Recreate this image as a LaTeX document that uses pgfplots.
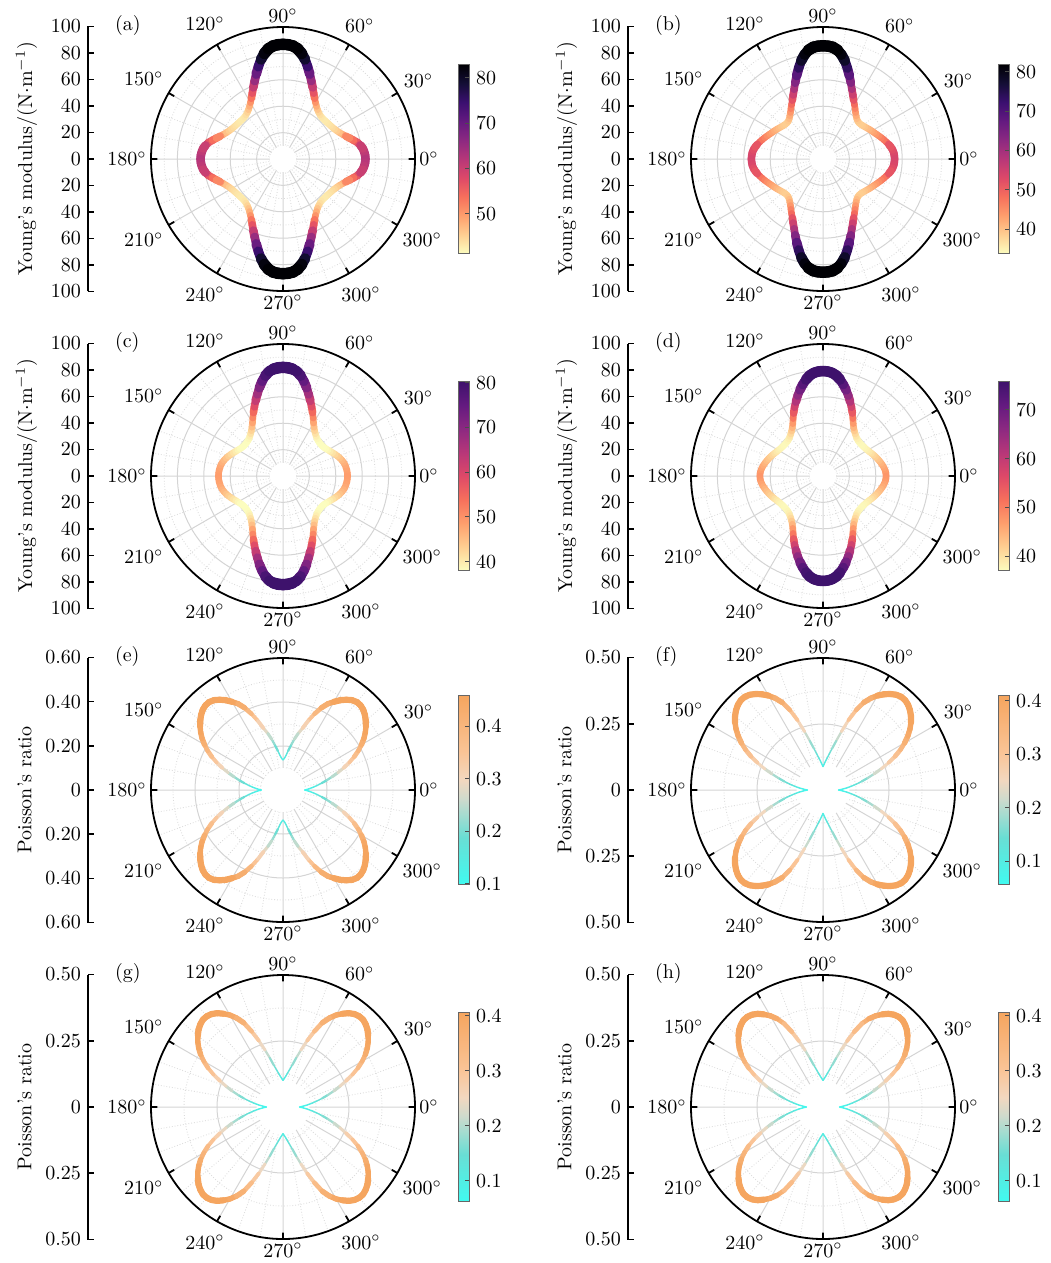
\documentclass[border=0pt]{standalone}
\usepackage{pgfplots}
\pgfplotsset{compat=1.18}
\usepackage{pgfplotstable}
\usepgfplotslibrary{polar}

% colormaps: reversed magma, magma cut at dark purple, cyan-orange
\pgfplotsset{
  colormap={magmar}{rgb255=(252,253,191) rgb255=(254,207,146) rgb255=(254,159,109) rgb255=(247,112,92) rgb255=(222,73,104) rgb255=(183,55,121) rgb255=(140,41,129) rgb255=(100,26,128) rgb255=(59,15,112) rgb255=(20,14,54) rgb255=(0,0,4)},
  colormap={magmac}{rgb255=(252,253,191) rgb255=(254,207,146) rgb255=(254,159,109) rgb255=(247,112,92) rgb255=(222,73,104) rgb255=(183,55,121) rgb255=(140,41,129) rgb255=(100,26,128) rgb255=(62,18,108)},
  colormap={cyor}{rgb255(0cm)=(64,250,240) rgb255(2.5cm)=(105,222,212) rgb255(4.5cm)=(205,218,205) rgb255(5.5cm)=(242,216,192) rgb255(7cm)=(250,196,150) rgb255(10cm)=(245,165,95)},
}

\pgfplotsset{
  pol/.style={
    scale only axis, width=132pt, height=132pt, anchor=center,
    ymin=0,
    xtick={0,30,...,330},
    xticklabels={$0^\circ$,$30^\circ$,$60^\circ$,$90^\circ$,$120^\circ$,$150^\circ$,$180^\circ$,$210^\circ$,$240^\circ$,$270^\circ$,$300^\circ$,$300^\circ$},
    xticklabel style={inner sep=5.2pt},
    minor xtick={10,20,40,50,70,80,100,110,130,140,160,170,190,200,220,230,250,260,280,290,310,320,340,350},
    yticklabels={},
    grid=both,
    major grid style={black!17, line width=0.5pt},
    minor grid style={black!14, densely dotted, line width=0.45pt},
    major tick length=3.2pt, minor tick length=0pt,
    tick align=outside,
    xtick style={black, line width=0.9pt},
    ytick style={draw=none},
    axis line style={black, line width=0.9pt},
    y axis line style={draw=none},
    colorbar,
    colorbar style={at={(parent axis.center)}, anchor=west, xshift=79pt,
      width=5.5pt, height=94.5pt, tick align=inside, ytick pos=right,
      axis line style={black!60, line width=0.5pt},
      ytick style={black!70, line width=0.5pt}, major tick length=2pt},
  },
  radax/.style={scale only axis, width=2pt, height=132.5pt, anchor=west,
    xmin=0, xmax=1, axis y line*=left, axis x line=none,
    tick align=inside, major tick length=3pt,
    y axis line style={line width=0.8pt},
    ytick style={line width=0.8pt, black}},
  curv/.style={mesh, line cap=round, line join=round, point meta=\thisrow{r}, line width=#1},
}

% one quadrant of data (0..90 deg), mirrored to the other three
\newcommand{\base}[2]{%
  \addplot[curv=#2] table[x=a,y=r]{#1};
  \addplot[curv=#2] table[x expr=180-\thisrow{a},y=r]{#1};
  \addplot[curv=#2] table[x expr=180+\thisrow{a},y=r]{#1};
  \addplot[curv=#2] table[x expr=360-\thisrow{a},y=r]{#1};
}
\newcommand{\half}[4]{%
  \addplot[curv=#2, restrict expr to domain={#4*\thisrow{r}}{#3:1000}] table[x=a,y=r]{#1};
  \addplot[curv=#2, restrict expr to domain={#4*\thisrow{r}}{#3:1000}] table[x expr=180-\thisrow{a},y=r]{#1};
  \addplot[curv=#2, restrict expr to domain={#4*\thisrow{r}}{#3:1000}] table[x expr=180+\thisrow{a},y=r]{#1};
  \addplot[curv=#2, restrict expr to domain={#4*\thisrow{r}}{#3:1000}] table[x expr=360-\thisrow{a},y=r]{#1};
}
\newcommand{\layer}[3]{%
  \half{#1}{#2}{#3}{(\thisrow{a}<=45)}%
  \half{#1}{#2}{#3}{(\thisrow{a}>=45)}%
}
% line width grows with the value
\newcommand{\Ecurve}[1]{%
  \base{#1}{3.3pt}
  \layer{#1}{3.8pt}{50}
  \layer{#1}{4.3pt}{58}
  \layer{#1}{4.8pt}{66}
  \layer{#1}{5.3pt}{74}
  \layer{#1}{5.7pt}{81}
}
\newcommand{\Pcurve}[7]{% table, six thresholds
  \base{#1}{0.7pt}
  \layer{#1}{1.1pt}{#2}
  \layer{#1}{1.5pt}{#3}
  \layer{#1}{1.9pt}{#4}
  \layer{#1}{2.3pt}{#5}
  \layer{#1}{2.7pt}{#6}
  \layer{#1}{3.1pt}{#7}
}

\pgfplotstableread{
a r
0 62.5
2.5 62.3
5 61.8
7.5 61.0
10 59.6
12.5 57.8
15 55.2
17.5 52.8
20 50.6
22.5 48.8
25 47.3
27.5 46.1
30 45.2
32.5 44.5
35 44.0
37.5 43.6
40 43.3
42.5 43.1
45 43.0
47.5 43.1
50 43.6
52.5 44.4
55 45.6
57.5 47.2
60 49.3
62.5 51.9
65 55.0
67.5 58.7
70 62.8
72.5 67.4
75 72.3
77.5 77.2
80 81.2
82.5 84.3
85 86.0
87.5 86.7
90 86.9
}\Ea
\pgfplotstableread{
a r
0 54.3
2.5 54.1
5 53.8
7.5 53.2
10 52.2
12.5 51.0
15 49.7
17.5 48.4
20 47.1
22.5 45.8
25 44.6
27.5 43.5
30 42.6
32.5 41.7
35 40.8
37.5 40.0
40 39.3
42.5 38.8
45 38.6
47.5 38.9
50 39.8
52.5 41.2
55 43.0
57.5 45.2
60 47.6
62.5 50.3
65 53.5
67.5 57.2
70 61.5
72.5 66.3
75 71.3
77.5 76.3
80 80.3
82.5 83.3
85 85.0
87.5 85.6
90 85.8
}\Eb
\pgfplotstableread{
a r
0 48.9
2.5 48.8
5 48.6
7.5 48.2
10 47.8
12.5 47.1
15 46.2
17.5 45.2
20 44.0
22.5 42.8
25 41.6
27.5 40.4
30 39.4
32.5 38.5
35 37.8
37.5 37.4
40 37.3
42.5 37.4
45 37.7
47.5 38.2
50 39.1
52.5 40.3
55 41.8
57.5 43.8
60 46.3
62.5 49.5
65 53.0
67.5 56.7
70 60.6
72.5 64.8
75 69.2
77.5 73.5
80 77.2
82.5 80.0
85 81.4
87.5 82.1
90 82.3
}\Ec
\pgfplotstableread{
a r
0 47.8
2.5 47.7
5 47.3
7.5 46.7
10 45.9
12.5 45.1
15 44.2
17.5 43.3
20 42.4
22.5 41.5
25 40.6
27.5 39.7
30 39.0
32.5 38.4
35 38.0
37.5 37.7
40 37.5
42.5 37.5
45 37.7
47.5 38.2
50 39.0
52.5 40.1
55 41.5
57.5 43.3
60 45.8
62.5 49.0
65 52.6
67.5 56.4
70 60.0
72.5 63.8
75 67.5
77.5 71.0
80 74.2
82.5 76.9
85 78.5
87.5 79.3
90 79.5
}\Ed
\pgfplotstableread{
a r
0 0.099
2.5 0.117
5 0.136
7.5 0.156
10 0.178
12.5 0.203
15 0.230
17.5 0.261
20 0.293
22.5 0.326
25 0.357
27.5 0.386
30 0.412
32.5 0.436
35 0.457
37.5 0.475
40 0.491
42.5 0.505
45 0.516
47.5 0.522
50 0.522
52.5 0.515
55 0.501
57.5 0.484
60 0.463
62.5 0.442
65 0.412
67.5 0.375
70 0.335
72.5 0.294
75 0.266
77.5 0.236
80 0.205
82.5 0.180
85 0.158
87.5 0.144
90 0.137
}\Pe
\pgfplotstableread{
a r
0 0.059
2.5 0.074
5 0.090
7.5 0.108
10 0.128
12.5 0.150
15 0.175
17.5 0.203
20 0.235
22.5 0.268
25 0.301
27.5 0.331
30 0.357
32.5 0.381
35 0.402
37.5 0.420
40 0.435
42.5 0.447
45 0.456
47.5 0.461
50 0.461
52.5 0.455
55 0.444
57.5 0.430
60 0.413
62.5 0.392
65 0.366
67.5 0.328
70 0.281
72.5 0.232
75 0.192
77.5 0.162
80 0.140
82.5 0.123
85 0.110
87.5 0.098
90 0.089
}\Pf
\pgfplotstableread{
a r
0 0.063
2.5 0.077
5 0.093
7.5 0.111
10 0.130
12.5 0.152
15 0.176
17.5 0.202
20 0.229
22.5 0.258
25 0.290
27.5 0.320
30 0.346
32.5 0.370
35 0.390
37.5 0.407
40 0.421
42.5 0.434
45 0.443
47.5 0.449
50 0.449
52.5 0.444
55 0.434
57.5 0.419
60 0.402
62.5 0.380
65 0.352
67.5 0.310
70 0.267
72.5 0.226
75 0.192
77.5 0.163
80 0.144
82.5 0.129
85 0.117
87.5 0.108
90 0.101
}\Pg
\pgfplotstableread{
a r
0 0.063
2.5 0.077
5 0.093
7.5 0.111
10 0.130
12.5 0.151
15 0.175
17.5 0.200
20 0.227
22.5 0.256
25 0.287
27.5 0.317
30 0.343
32.5 0.367
35 0.387
37.5 0.404
40 0.418
42.5 0.431
45 0.440
47.5 0.446
50 0.446
52.5 0.441
55 0.431
57.5 0.416
60 0.399
62.5 0.377
65 0.349
67.5 0.308
70 0.265
72.5 0.225
75 0.191
77.5 0.163
80 0.144
82.5 0.129
85 0.117
87.5 0.108
90 0.101
}\Ph

\begin{document}
\begin{tikzpicture}
\useasboundingbox (0,0) rectangle (525pt,-631.5pt);

% ---------- row 1 ----------
\begin{axis}[radax, at={(44pt,-79.5pt)}, ymin=-100, ymax=100,
  ytick={-100,-80,-60,-40,-20,0,20,40,60,80,100},
  yticklabels={100,80,60,40,20,0,20,40,60,80,100},
  ylabel={Young's modulus/(N$\cdot$m$^{-1}$)}]
\end{axis}
\node[anchor=west] at (54pt,-12.6pt) {(a)};
\begin{polaraxis}[pol, at={(141.5pt,-79.5pt)}, ymax=100,
  ytick={20,40,60,80}, minor ytick={10,30,50,70,90},
  colormap name=magmar, point meta min=41.3, point meta max=82.9,
  colorbar style={ytick={50,60,70,80}}]
\fill[white] (axis cs:0,0) circle[radius=6.6pt];
\Ecurve{\Ea}
\end{polaraxis}

\begin{axis}[radax, at={(314pt,-79.5pt)}, ymin=-100, ymax=100,
  ytick={-100,-80,-60,-40,-20,0,20,40,60,80,100},
  yticklabels={100,80,60,40,20,0,20,40,60,80,100},
  ylabel={Young's modulus/(N$\cdot$m$^{-1}$)}]
\end{axis}
\node[anchor=west] at (324pt,-12.6pt) {(b)};
\begin{polaraxis}[pol, at={(411.5pt,-79.5pt)}, ymax=100,
  ytick={20,40,60,80}, minor ytick={10,30,50,70,90},
  colormap name=magmar, point meta min=33.8, point meta max=81.9,
  colorbar style={ytick={40,50,60,70,80}}]
\fill[white] (axis cs:0,0) circle[radius=6.6pt];
\Ecurve{\Eb}
\end{polaraxis}

% ---------- row 2 ----------
\begin{axis}[radax, at={(44pt,-238pt)}, ymin=-100, ymax=100,
  ytick={-100,-80,-60,-40,-20,0,20,40,60,80,100},
  yticklabels={100,80,60,40,20,0,20,40,60,80,100},
  ylabel={Young's modulus/(N$\cdot$m$^{-1}$)}]
\end{axis}
\node[anchor=west] at (54pt,-171.1pt) {(c)};
\begin{polaraxis}[pol, at={(141.5pt,-238pt)}, ymax=100,
  ytick={20,40,60,80}, minor ytick={10,30,50,70,90},
  colormap name=magmac, point meta min=38, point meta max=80.3,
  colorbar style={ytick={40,50,60,70,80}}]
\fill[white] (axis cs:0,0) circle[radius=6.6pt];
\Ecurve{\Ec}
\end{polaraxis}

\begin{axis}[radax, at={(314pt,-238pt)}, ymin=-100, ymax=100,
  ytick={-100,-80,-60,-40,-20,0,20,40,60,80,100},
  yticklabels={100,80,60,40,20,0,20,40,60,80,100},
  ylabel={Young's modulus/(N$\cdot$m$^{-1}$)}]
\end{axis}
\node[anchor=west] at (324pt,-171.1pt) {(d)};
\begin{polaraxis}[pol, at={(411.5pt,-238pt)}, ymax=100,
  ytick={20,40,60,80}, minor ytick={10,30,50,70,90},
  colormap name=magmac, point meta min=37.1, point meta max=75.8,
  colorbar style={ytick={40,50,60,70}}]
\fill[white] (axis cs:0,0) circle[radius=6.6pt];
\Ecurve{\Ed}
\end{polaraxis}

% ---------- row 3 ----------
\begin{axis}[radax, at={(44pt,-395pt)}, ymin=-0.6, ymax=0.6,
  ytick={-0.6,-0.4,-0.2,0,0.2,0.4,0.6},
  yticklabels={0.60,0.40,0.20,0,0.20,0.40,0.60},
  ylabel={Poisson's ratio}]
\end{axis}
\node[anchor=west] at (54pt,-328.1pt) {(e)};
\begin{polaraxis}[pol, at={(141.5pt,-395pt)}, ymax=0.6,
  ytick={0.2,0.4}, minor ytick={0.1,0.3,0.5},
  colormap name=cyor, point meta min=0.099, point meta max=0.458,
  colorbar style={ytick={0.1,0.2,0.3,0.4}}]
\fill[white] (axis cs:0,0) circle[radius=11pt];
\Pcurve{\Pe}{0.17}{0.22}{0.28}{0.34}{0.39}{0.46}
\end{polaraxis}

\begin{axis}[radax, at={(314pt,-395pt)}, ymin=-0.5, ymax=0.5,
  ytick={-0.5,-0.25,0,0.25,0.5},
  yticklabels={0.50,0.25,0,0.25,0.50},
  ylabel={Poisson's ratio}]
\end{axis}
\node[anchor=west] at (324pt,-328.1pt) {(f)};
\begin{polaraxis}[pol, at={(411.5pt,-395pt)}, ymax=0.5,
  ytick={0.25}, minor ytick={0.125,0.375},
  colormap name=cyor, point meta min=0.056, point meta max=0.41,
  colorbar style={ytick={0.1,0.2,0.3,0.4}}]
\fill[white] (axis cs:0,0) circle[radius=13.2pt];
\Pcurve{\Pf}{0.15}{0.2}{0.25}{0.3}{0.35}{0.41}
\end{polaraxis}

% ---------- row 4 ----------
\begin{axis}[radax, at={(44pt,-553.5pt)}, ymin=-0.5, ymax=0.5,
  ytick={-0.5,-0.25,0,0.25,0.5},
  yticklabels={0.50,0.25,0,0.25,0.50},
  ylabel={Poisson's ratio}]
\end{axis}
\node[anchor=west] at (54pt,-486.6pt) {(g)};
\begin{polaraxis}[pol, at={(141.5pt,-553.5pt)}, ymax=0.5,
  ytick={0.25}, minor ytick={0.125,0.375},
  colormap name=cyor, point meta min=0.062, point meta max=0.406,
  colorbar style={ytick={0.1,0.2,0.3,0.4}}]
\fill[white] (axis cs:0,0) circle[radius=13.2pt];
\Pcurve{\Pg}{0.15}{0.2}{0.25}{0.3}{0.35}{0.41}
\end{polaraxis}

\begin{axis}[radax, at={(314pt,-553.5pt)}, ymin=-0.5, ymax=0.5,
  ytick={-0.5,-0.25,0,0.25,0.5},
  yticklabels={0.50,0.25,0,0.25,0.50},
  ylabel={Poisson's ratio}]
\end{axis}
\node[anchor=west] at (324pt,-486.6pt) {(h)};
\begin{polaraxis}[pol, at={(411.5pt,-553.5pt)}, ymax=0.5,
  ytick={0.25}, minor ytick={0.125,0.375},
  colormap name=cyor, point meta min=0.062, point meta max=0.406,
  colorbar style={ytick={0.1,0.2,0.3,0.4}}]
\fill[white] (axis cs:0,0) circle[radius=13.2pt];
\Pcurve{\Ph}{0.15}{0.2}{0.25}{0.3}{0.35}{0.41}
\end{polaraxis}
\end{tikzpicture}
\end{document}
